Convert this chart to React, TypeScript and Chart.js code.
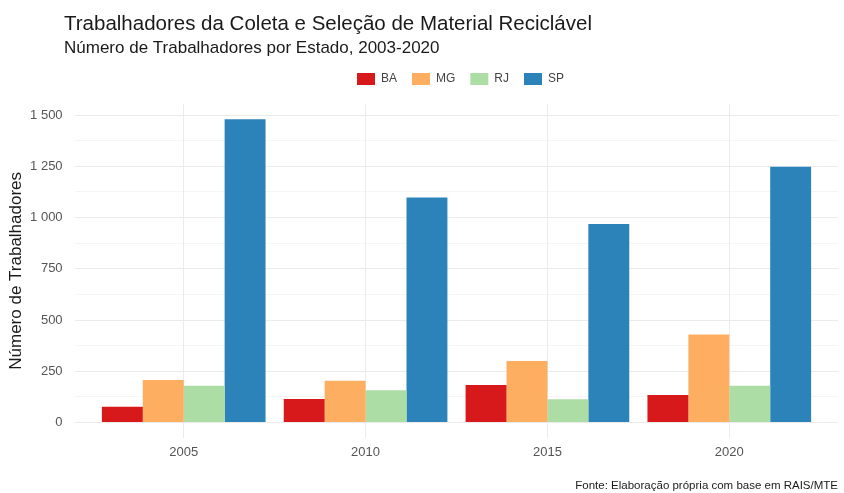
import React, { useEffect, useRef } from "react";
import { Chart, registerables } from "chart.js";

Chart.register(...registerables);

// ---------- data ----------
const categories = ["2005", "2010", "2015", "2020"];
const states = ["BA", "MG", "RJ", "SP"];
const baValues = [77, 115, 183, 134];
const mgValues = [207, 204, 300, 430];
const rjValues = [180, 158, 113, 180];
const spValues = [1480, 1098, 968, 1248];
const yMajorTicks = [0, 250, 500, 750, 1000, 1250, 1500];
const yMinorTicks = [125, 375, 625, 875, 1125, 1375];

const titleText = "Trabalhadores da Coleta e Seleção de Material Reciclável";
const subtitleText = "Número de Trabalhadores por Estado, 2003-2020";
const yTitleText = "Número de Trabalhadores";
const captionText = "Fonte: Elaboração própria com base em RAIS/MTE";

// ---------- styles ----------
const palette = ["#D7191C", "#FDAE61", "#ABDDA4", "#2B83BA"];
const FONT = "'Liberation Sans', Arial, sans-serif";
const W = 844;
const H = 493;
const AREA = { left: 74.6, right: 838.4, top: 104, bottom: 437.7 };
const LEGEND_PAD = 15;
const LEGEND_START_X = 357;
const LEGEND_BOX_TOP = 73;

function fmt(v: number): string {
  if (v >= 1000) {
    const th = Math.floor(v / 1000);
    const rest = String(v % 1000).padStart(3, "0");
    return th + " " + rest;
  }
  return String(v);
}

const textPlugin = {
  id: "textPlugin",
  afterLayout(chart: any) {
    const lg = chart.legend;
    if (!lg || !lg.lineWidths) return;
    const desiredTop = LEGEND_BOX_TOP - LEGEND_PAD;
    const dy = desiredTop - lg.top;
    lg.top += dy;
    lg.bottom += dy;
    const lw = lg.lineWidths[0];
    const cur = (lg.left + LEGEND_PAD + lg.right - lw) / 2;
    const dx = LEGEND_START_X - cur;
    lg.left += dx;
    lg.right += dx;
  },
  afterDraw(chart: any) {
    const ctx = chart.ctx;
    ctx.save();
    ctx.textBaseline = "alphabetic";
    ctx.textAlign = "left";
    ctx.fillStyle = "#1a1a1a";
    ctx.font = `20.5px ${FONT}`;
    ctx.fillText(titleText, 64, 30);
    ctx.fillStyle = "#1a1a1a";
    ctx.font = `17px ${FONT}`;
    ctx.fillText(subtitleText, 64, 53);
    ctx.textAlign = "right";
    ctx.fillStyle = "#1a1a1a";
    ctx.font = `11.5px ${FONT}`;
    ctx.fillText(captionText, 838, 489);
    ctx.restore();
  },
};

export default function App() {
  const ref = useRef<HTMLCanvasElement | null>(null);

  useEffect(() => {
    if (!ref.current) return;
    const series = [baValues, mgValues, rjValues, spValues];
    const allVals = series.flat();
    const maxV = Math.max(...allVals);
    const chart = new Chart(ref.current, {
      type: "bar",
      data: {
        datasets: series.map((vals, s) => ({
          label: states[s],
          data: vals.map((v, i) => ({ x: i, y: v })),
          backgroundColor: palette[s],
          borderWidth: 0,
          categoryPercentage: 0.9,
          barPercentage: 1.0,
        })),
      },
      options: {
        animation: false,
        responsive: false,
        devicePixelRatio: 1,
        layout: {
          padding: { top: 67, left: 0, right: W - AREA.right, bottom: 0 },
        },
        plugins: {
          tooltip: { enabled: false },
          title: { display: false },
          legend: {
            display: true,
            position: "top",
            align: "center",
            labels: {
              boxWidth: 18,
              boxHeight: 12,
              padding: LEGEND_PAD,
              color: "#444444",
              font: { size: 12, family: FONT },
            },
          },
        },
        scales: {
          x: {
            type: "linear",
            min: -0.6,
            max: categories.length - 0.4,
            offset: false,
            grid: { offset: false, color: "#ebebeb", lineWidth: 1, drawTicks: false },
            border: { display: false },
            afterBuildTicks: (s: any) => {
              s.ticks = categories.map((_, i) => ({ value: i }));
            },
            afterFit: (s: any) => {
              s.height = H - AREA.bottom;
            },
            ticks: {
              autoSkip: false,
              maxRotation: 0,
              padding: 7,
              color: "#555555",
              font: { size: 13, family: FONT },
              callback: (v: any) => categories[Math.round(Number(v))] ?? "",
            },
          },
          y: {
            type: "linear",
            min: -0.05 * maxV,
            max: 1.05 * maxV,
            grid: {
              color: "#ebebeb",
              drawTicks: false,
              lineWidth: (c: any) => (c.tick && c.tick.value % 250 === 0 ? 1 : 0.5),
            },
            border: { display: false },
            afterBuildTicks: (s: any) => {
              s.ticks = [...yMajorTicks, ...yMinorTicks]
                .sort((a, b) => a - b)
                .map((v) => ({ value: v }));
            },
            afterFit: (s: any) => {
              s.width = AREA.left;
            },
            ticks: {
              autoSkip: false,
              padding: 12,
              color: "#555555",
              font: { size: 13, family: FONT },
              callback: (v: any) => (Number(v) % 250 === 0 ? fmt(Number(v)) : ""),
            },
            title: {
              display: true,
              text: yTitleText,
              color: "#1a1a1a",
              font: { size: 17, family: FONT },
              padding: { top: 6, bottom: 0 },
            },
          },
        },
      },
      plugins: [textPlugin],
    });
    const delta = AREA.top - chart.chartArea.top;
    if (Math.abs(delta) > 0.25) {
      (chart.options.layout as any).padding.top += delta;
      chart.update();
    }
    return () => chart.destroy();
  }, []);

  return (
    <div style={{ position: "fixed", left: 0, top: 0, width: W, height: H, background: "#fff" }}>
      <canvas ref={ref} width={W} height={H} style={{ display: "block" }} />
    </div>
  );
}
